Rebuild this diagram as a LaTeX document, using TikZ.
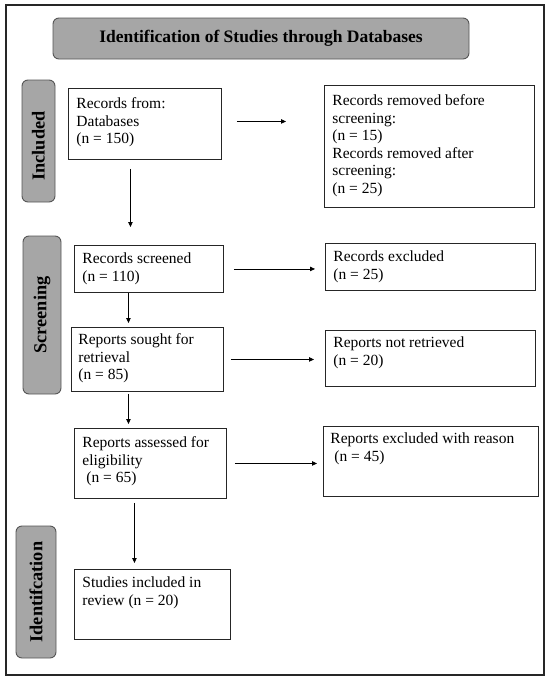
\documentclass[tikz,border=0pt]{standalone}
\usepackage{fontspec}
\setmainfont{Liberation Serif}
\usetikzlibrary{arrows.meta,calc}
\definecolor{labfill}{RGB}{166,166,166}
\definecolor{labdraw}{RGB}{85,85,85}
\newcommand{\bx}[5]{\parbox[c][#2][t]{#1}{\fontsize{15.5}{17.6}\selectfont\raggedright\leftskip=#3\rule{0pt}{#4}#5}}
\tikzset{
  box/.style={draw=black!85, line width=0.9pt, inner sep=0pt, anchor=north west},
  lab/.style={draw=labdraw, fill=labfill, rounded corners=6pt, line width=0.9pt, inner sep=0pt, font=\fontsize{18.3}{20}\bfseries\selectfont},
  arr/.style={draw=black, line width=0.8pt, -{Triangle[length=5pt,width=4.5pt]}},
  frame/.style={draw=black!85, line width=1.4pt}
}
\begin{document}
\begin{tikzpicture}[x=1pt,y=-1pt]
\useasboundingbox (0,0) rectangle (550,680);
\draw[frame] (6,5) rectangle (544,675);

\node[lab, minimum width=416pt, minimum height=41pt, font=\fontsize{17.5}{20}\bfseries\selectfont] (title) at (261,38.5) {Identification of Studies through Databases};

\node[lab, rotate=90, minimum width=122pt, minimum height=33pt] (linc) at (38.5,141) {Included\hspace*{10pt}};
\node[lab, rotate=90, minimum width=158pt, minimum height=38pt] (lscr) at (42,315) {Screening};
\node[lab, rotate=90, minimum width=132pt, minimum height=40pt] (lid) at (36,592) {Identifcation};

\node[box] (rf) at (68,88) {\bx{153pt}{71pt}{8pt}{20pt}{Records from:\\Databases\\(n = 150)}};
\node[box] (rr) at (324,85) {\bx{210pt}{122pt}{8pt}{20pt}{Records removed before\\screening:\\(n = 15)\\Records removed after\\screening:\\(n = 25)}};
\node[box] (rs) at (74,245) {\bx{149pt}{47pt}{8pt}{18pt}{Records screened\\(n = 110)}};
\node[box] (re) at (325,243) {\bx{210pt}{47pt}{8pt}{18pt}{Records excluded\\(n = 25)}};
\node[box] (rsr) at (71,327) {\bx{152pt}{64pt}{7pt}{17pt}{Reports sought for\\retrieval\\(n = 85)}};
\node[box] (nr) at (325,330) {\bx{210pt}{56pt}{8pt}{17pt}{Reports not retrieved\\(n = 20)}};
\node[box] (ra) at (74,428) {\bx{152pt}{70pt}{8pt}{19pt}{Reports assessed for\\eligibility\\\hspace*{4pt}(n = 65)}};
\node[box] (rx) at (323,426) {\bx{215pt}{70pt}{7pt}{17pt}{Reports excluded with reason\\\hspace*{4pt}(n = 45)}};
\node[box] (si) at (74,569) {\bx{156pt}{70pt}{8pt}{18pt}{Studies included in\\review (n = 20)}};

\draw[arr, shorten <=15pt, shorten >=38pt] ([yshift=2.5pt]rf.east) -- ([yshift=2.5pt]rf.east -| rr.west);
\draw[arr, shorten <=10pt, shorten >=10pt] (rs.east) -- (rs.east -| re.west);
\draw[arr, shorten <=7pt, shorten >=11pt] (rsr.east) -- (rsr.east -| nr.west);
\draw[arr, shorten <=8pt, shorten >=6pt] (ra.east) -- (ra.east -| rx.west);

\draw[arr, shorten <=9pt, shorten >=18pt] ([xshift=-14.5pt]rf.south) -- ([xshift=-14.5pt]rf.south |- rs.north);
\draw[arr, shorten >=4pt] ([xshift=-20.5pt]rs.south) -- ([xshift=-20.5pt]rs.south |- rsr.north);
\draw[arr, shorten <=2pt, shorten >=4pt] ([xshift=-19pt]rsr.south) -- ([xshift=-19pt]rsr.south |- ra.north);
\draw[arr, shorten <=4pt, shorten >=6pt] ([xshift=-16pt]ra.south) -- ([xshift=-16pt]ra.south |- si.north);
\end{tikzpicture}
\end{document}
